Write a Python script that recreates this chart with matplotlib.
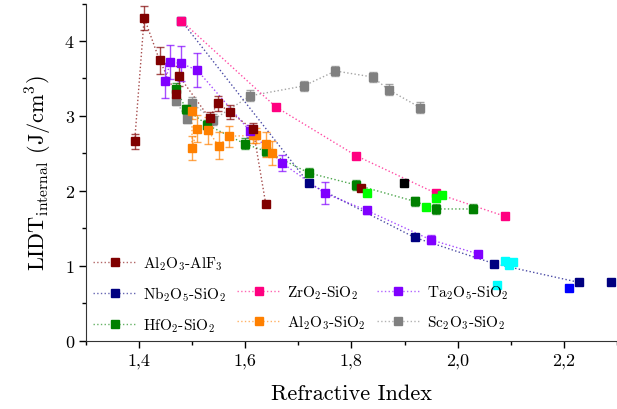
import matplotlib
import matplotlib.pyplot as plt
from matplotlib.lines import Line2D
from matplotlib.ticker import FuncFormatter, MultipleLocator

matplotlib.use("Agg")

plt.rcParams["font.family"] = "serif"
plt.rcParams["font.serif"] = ["cmr10", "DejaVu Serif"]
plt.rcParams["mathtext.fontset"] = "cm"
plt.rcParams["axes.formatter.use_mathtext"] = True

# Al2O3-AlF3
alf_x = [1.392, 1.41, 1.439, 1.47, 1.476, 1.533, 1.548, 1.572, 1.615, 1.639]
alf_y = [2.66, 4.31, 3.74, 3.29, 3.53, 2.97, 3.17, 3.05, 2.82, 1.82]
alf_e = [0.10, 0.16, 0.18, 0.10, 0.13, 0.08, 0.10, 0.09, 0.09, 0.0]

# Nb2O5-SiO2
nb_x = [1.48, 1.72, 1.919, 2.069, 2.229]
nb_y = [4.27, 2.10, 1.38, 1.03, 0.78]
nb_extra_x = [2.289]
nb_extra_y = [0.78]

# ZrO2-SiO2
zr_x = [1.48, 1.658, 1.809, 1.959, 2.09]
zr_y = [4.27, 3.12, 2.47, 1.97, 1.66]

# Ta2O5-SiO2
ta_x = [1.45, 1.459, 1.48, 1.51, 1.609, 1.67, 1.75, 1.829, 1.949, 2.039]
ta_y = [3.47, 3.72, 3.70, 3.61, 2.80, 2.37, 1.97, 1.74, 1.35, 1.16]
ta_e = [0.23, 0.23, 0.24, 0.23, 0.08, 0.11, 0.15, 0.05, 0.06, 0.04]

# HfO2-SiO2
hf_x = [1.47, 1.489, 1.529, 1.599, 1.639, 1.72, 1.809, 1.92, 1.959, 2.029]
hf_y = [3.36, 3.09, 2.88, 2.63, 2.53, 2.24, 2.08, 1.86, 1.76, 1.76]
hf_e = [0.08, 0.06, 0.06, 0.07, 0.06, 0.06, 0.07, 0.06, 0.07, 0.06]

# Al2O3-SiO2
als_x = [1.50, 1.50, 1.51, 1.53, 1.55, 1.57, 1.615, 1.62, 1.64, 1.65]
als_y = [3.06, 2.57, 2.83, 2.81, 2.60, 2.73, 2.74, 2.74, 2.62, 2.51]
als_e = [0.10, 0.16, 0.18, 0.18, 0.18, 0.14, 0.10, 0.10, 0.17, 0.16]

# Sc2O3-SiO2
sc_x = [1.47, 1.49, 1.50, 1.54, 1.61, 1.71, 1.77, 1.84, 1.87, 1.93]
sc_y = [3.20, 2.96, 3.17, 2.95, 3.27, 3.40, 3.60, 3.52, 3.35, 3.11]
sc_e = [0.06, 0.06, 0.08, 0.07, 0.07, 0.07, 0.07, 0.07, 0.07, 0.07]

# single points without legend entry
misc_x = [1.819, 1.899, 1.83, 1.94, 1.959, 1.971, 2.09, 2.105, 2.097, 2.075, 2.209]
misc_y = [2.04, 2.10, 1.97, 1.78, 1.91, 1.94, 1.06, 1.05, 1.01, 0.75, 0.71]
misc_c = ["#800000", "#000000", "#00ff00", "#00ff00", "#00ff00", "#00ff00",
          "#00ffff", "#00ffff", "#00ffff", "#00ffff", "#0000ff"]

fig = plt.figure(figsize=(6.17, 4.10), dpi=100)
ax = fig.add_axes([0.139, 0.166, 0.861, 0.823])


def draw(x, y, err, color, label):
    ax.plot(x, y, ls=":", lw=1.0, color=color, alpha=0.7, zorder=2)
    if err is not None:
        ax.errorbar(x, y, yerr=err, fmt="none", ecolor=color, elinewidth=1.0,
                    capsize=3, capthick=1.0, alpha=0.7, zorder=3)
    ax.plot(x, y, ls="none", marker="s", ms=6, color=color, zorder=4)
    line = Line2D([], [], ls=":", lw=1.0, color=color, alpha=0.6)
    mark = Line2D([], [], ls="none", marker="s", ms=6, color=color)
    return (line, mark), label


h_nb = draw(nb_x, nb_y, None, "#000080", r"Nb$_2$O$_5$-SiO$_2$")
ax.plot(nb_extra_x, nb_extra_y, ls="none", marker="s", ms=6, color="#000080", zorder=4)
h_sc = draw(sc_x, sc_y, sc_e, "#808080", r"Sc$_2$O$_3$-SiO$_2$")
h_hf = draw(hf_x, hf_y, hf_e, "#008000", r"HfO$_2$-SiO$_2$")
h_als = draw(als_x, als_y, als_e, "#ff8000", r"Al$_2$O$_3$-SiO$_2$")
h_ta = draw(ta_x, ta_y, ta_e, "#8000ff", r"Ta$_2$O$_5$-SiO$_2$")
h_zr = draw(zr_x, zr_y, None, "#ff0080", r"ZrO$_2$-SiO$_2$")
h_alf = draw(alf_x, alf_y, alf_e, "#800000", r"Al$_2$O$_3$-AlF$_3$")
for mx, my, mc in zip(misc_x, misc_y, misc_c):
    ax.plot([mx], [my], ls="none", marker="s", ms=6, color=mc, zorder=4)

ax.set_xlim(1.3, 2.3)
ax.set_ylim(0, 4.5)
ax.xaxis.set_major_locator(MultipleLocator(0.2))
ax.xaxis.set_minor_locator(MultipleLocator(0.1))
ax.yaxis.set_major_locator(MultipleLocator(1))
ax.yaxis.set_minor_locator(MultipleLocator(0.5))
ax.xaxis.set_major_formatter(FuncFormatter(lambda v, p: f"{v:.1f}".replace(".", ",")))
ax.yaxis.set_major_formatter(FuncFormatter(lambda v, p: f"{v:.0f}"))
ax.tick_params(axis="both", which="major", labelsize=13, length=5, width=1, direction="out")
ax.tick_params(axis="both", which="minor", length=3, width=1, direction="out")
ax.spines["top"].set_visible(False)
ax.spines["right"].set_visible(False)
ax.spines["left"].set_color("#333333")
ax.spines["bottom"].set_color("#333333")

ax.set_xlabel("Refractive Index", fontsize=16, labelpad=11)
ax.set_ylabel(r"LIDT$_{\mathrm{internal}}$ (J/cm$^3$)", fontsize=16, labelpad=8)

blank = Line2D([], [], ls="none")
entries = [h_alf, h_nb, h_hf, (blank, " "), h_zr, h_als, (blank, " "), h_ta, h_sc]
ax.legend([e[0] for e in entries], [e[1] for e in entries], ncol=3,
          loc="lower left", bbox_to_anchor=(-0.012, -0.02),
          frameon=False, fontsize=11, handlelength=2.8, handletextpad=0.45,
          columnspacing=0.75, labelspacing=0.85)

fig.savefig("out.png", dpi=100)
